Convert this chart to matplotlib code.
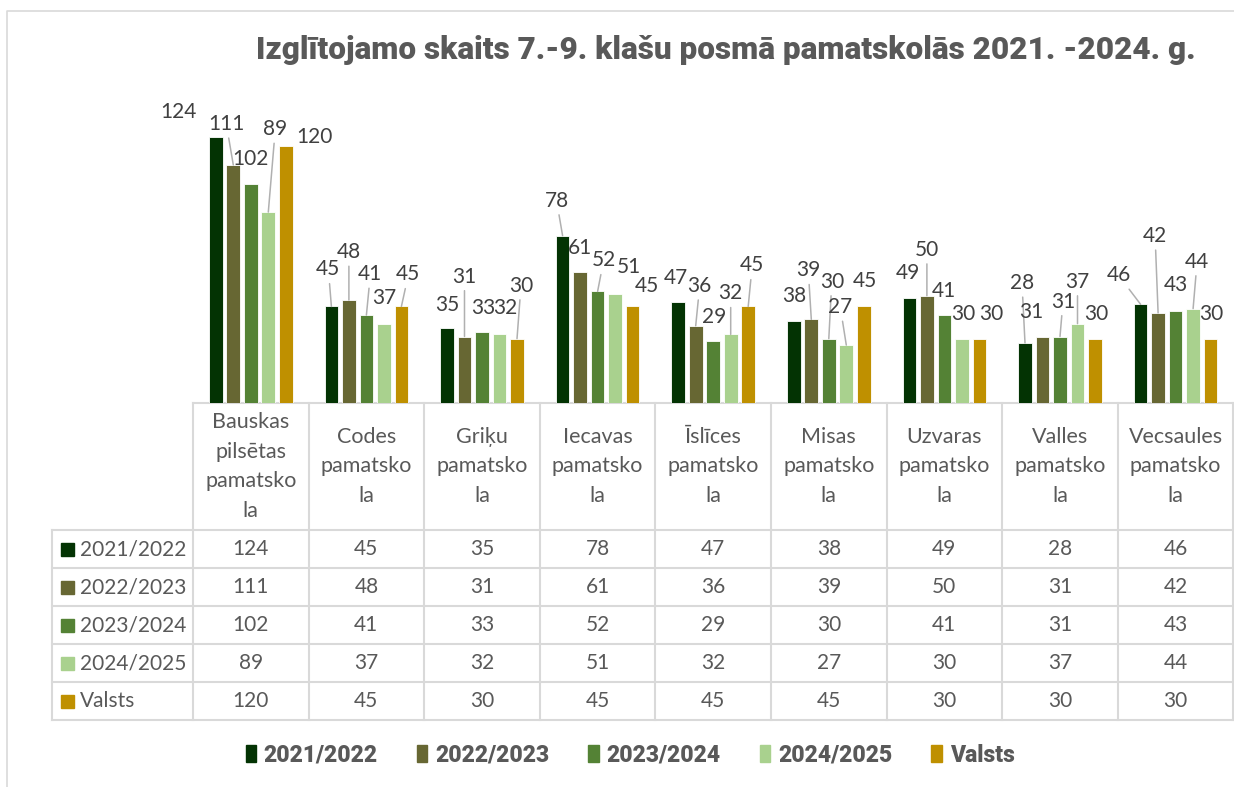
import numpy as np
import matplotlib.pyplot as plt
from matplotlib.patches import Patch, Rectangle

schools = ['Bauskas\npilsētas\npamatsko\nla', 'Codes\npamatsko\nla', 'Griķu\npamatsko\nla',
           'Iecavas\npamatsko\nla', 'Īslīces\npamatsko\nla', 'Misas\npamatsko\nla',
           'Uzvaras\npamatsko\nla', 'Valles\npamatsko\nla', 'Vecsaules\npamatsko\nla']
years = ['2021/2022', '2022/2023', '2023/2024', '2024/2025', 'Valsts']
v2122 = [124, 45, 35, 78, 47, 38, 49, 28, 46]
v2223 = [111, 48, 31, 61, 36, 39, 50, 31, 42]
v2324 = [102, 41, 33, 52, 29, 30, 41, 31, 43]
v2425 = [89, 37, 32, 51, 32, 27, 30, 37, 44]
valsts = [120, 45, 30, 45, 45, 45, 30, 30, 30]
series = [v2122, v2223, v2324, v2425, valsts]

colors = ['#033303', '#676733', '#548235', '#A9D18E', '#BF9000']
txt = '#595959'
grid = '#D9D9D9'

# label offsets in pixels (dx, dy up) from bar top, and whether a leader line is drawn
offs = [
    [(-37, 25, 0), (-3, 37, 1), (0, 23, 0), (-6, 35, 1), (-2, 24, 0), (0, 25, 0), (-1, 25, 0), (-3, 60, 1), (-22, 29, 1)],
    [(-7, 41, 1), (0, 48, 1), (0, 60, 1), (0, 24, 0), (4, 40, 1), (-3, 49, 1), (0, 46, 1), (-11, 25, 0), (-3, 77, 1)],
    [(0, 25, 0), (4, 41, 1), (1, 24, 0), (6, 31, 1), (1, 24, 0), (3, 57, 1), (0, 24, 0), (3, 35, 1), (0, 26, 0)],
    [(7, 83, 1), (0, 26, 0), (6, 26, 0), (14, 27, 0), (0, 41, 1), (-6, 38, 1), (1, 25, 0), (0, 42, 1), (4, 47, 1)],
    [(29, 9, 0), (7, 32, 1), (4, 53, 1), (14, 20, 0), (4, 41, 1), (1, 25, 0), (12, 25, 0), (1, 25, 0), (1, 25, 0)],
]

W, H = 1234, 787
fig = plt.figure(figsize=(W / 100, H / 100), dpi=100)

# overlay in pixel coords for the table, border and title
ov = fig.add_axes([0, 0, 1, 1], zorder=-1)
ov.set_xlim(0, W)
ov.set_ylim(H, 0)
ov.axis('off')

ax = fig.add_axes([193 / W, (H - 403) / H, 1040.4 / W, 300.3 / H])
ax.patch.set_visible(False)
ax.set_xlim(-0.5, 8.5)
ax.set_ylim(0, 140)
ax.axis('off')

x = np.arange(len(schools))
step, bw = 0.1514, 0.1185
for j, (vals, col) in enumerate(zip(series, colors)):
    xs = x + (j - 2) * step
    ax.bar(xs, vals, width=bw, color=col, edgecolor='white', linewidth=0.6)
    for i, v in enumerate(vals):
        dx, dy, lead = offs[j][i]
        ap = dict(arrowstyle='-', color='#B0B0B0', lw=1.1, shrinkA=1, shrinkB=0) if lead else None
        ax.annotate(str(v), (xs[i], v), xytext=(dx, dy), textcoords='offset pixels',
                    ha='center', va='center', fontsize=15, family='Lato', color='#404040',
                    arrowprops=ap, annotation_clip=False)

# chart border
ov.plot([7, 7, 1240], [800, 11, 11], color=grid, lw=1.2)

# data table
col_x = [193 + 115.6 * k for k in range(10)]
rows_y = [530, 568, 606, 644, 682, 720]
for cx in col_x:
    ov.plot([cx, cx], [403, 720], color=grid, lw=1.5)
ov.plot([52, 52], [530, 720], color=grid, lw=1.5)
ov.plot([193, 1233.5], [403, 403], color=grid, lw=1.5)
for ry in rows_y:
    ov.plot([52, 1233.5], [ry, ry], color=grid, lw=1.5)

for i, name in enumerate(schools):
    lines = name.split('\n')
    cx = (col_x[i] + col_x[i + 1]) / 2
    for k, ln in enumerate(lines):
        yy = 466.5 + (k - (len(lines) - 1) / 2) * 29.5
        ov.text(cx, yy, ln, ha='center', va='center', fontsize=15.5, family='Lato', color=txt)

for j, (lab, vals, col) in enumerate(zip(years, series, colors)):
    yc = (rows_y[j] + rows_y[j + 1]) / 2
    ov.add_patch(Rectangle((61, yc - 6.5), 13, 13, color=col))
    ov.text(80, yc, lab, ha='left', va='center', fontsize=15, family='Lato', color=txt)
    for i, v in enumerate(vals):
        cx = (col_x[i] + col_x[i + 1]) / 2
        ov.text(cx, yc, str(v), ha='center', va='center', fontsize=15, family='Lato', color=txt)

ov.text(726, 50, 'Izglītojamo skaits 7.-9. klašu posmā pamatskolās 2021. -2024. g.',
        ha='center', va='center', fontsize=22.7, fontweight='heavy', family='Roboto', color=txt)

handles = [Patch(color=c) for c in colors]
fig.legend(handles, years, loc='center', bbox_to_anchor=(630 / W, 1 - 755 / H), ncol=5,
           frameon=False, prop=dict(family='Roboto', weight='heavy', size=16.5),
           handlelength=0.45, handleheight=0.75, handletextpad=0.35, columnspacing=1.7,
           labelcolor=txt)

fig.savefig('out.png', dpi=100, facecolor='white')
